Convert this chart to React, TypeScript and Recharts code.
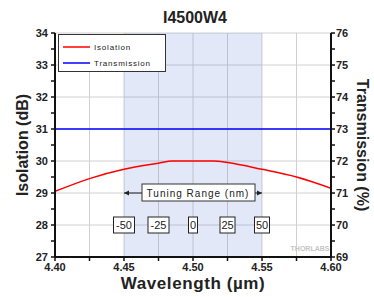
import React from "react";
import {
  CartesianGrid,
  ComposedChart,
  Line,
  ReferenceArea,
  ReferenceDot,
  ReferenceLine,
  XAxis,
  YAxis,
} from "recharts";

const wavelengths = [4.4, 4.425, 4.45, 4.475, 4.485, 4.5, 4.515, 4.525, 4.55, 4.575, 4.6];
const isolation = [29.05, 29.45, 29.74, 29.93, 30.0, 30.0, 30.0, 29.95, 29.74, 29.5, 29.15];
const transmission = [73, 73, 73, 73, 73, 73, 73, 73, 73, 73, 73];

const xTicks = [4.4, 4.425, 4.45, 4.475, 4.5, 4.525, 4.55, 4.575, 4.6];
const leftTicks = [27, 27.5, 28, 28.5, 29, 29.5, 30, 30.5, 31, 31.5, 32, 32.5, 33, 33.5, 34];
const rightTicks = [69, 69.5, 70, 70.5, 71, 71.5, 72, 72.5, 73, 73.5, 74, 74.5, 75, 75.5, 76];
const gridRows = [27, 28, 29, 30, 31, 32, 33, 34];

const tuningRange = [4.45, 4.55];
const offsetPositions = [4.45, 4.475, 4.5, 4.525, 4.55];
const offsetLabels = ["-50", "-25", "0", "25", "50"];

const seriesNames = ["Isolation", "Transmission"];
const seriesColors = ["#ff0000", "#0000ff"];

const data = wavelengths.map((w, i) => ({ w, isolation: isolation[i], transmission: transmission[i] }));

const FONT = "'Liberation Sans', Arial, sans-serif";
const tickStyle = { fontSize: 11, fontWeight: 700, fill: "#222", fontFamily: FONT };

function TuningBox(props: any) {
  const { cx, cy } = props;
  return (
    <g>
      <rect x={cx - 51} y={cy - 9} width={113} height={17} fill="#fff" stroke="#333" strokeWidth={1} />
      <text x={cx + 5} y={cy + 3.5} textAnchor="middle" fontSize={10} fontFamily={FONT} fill="#222" letterSpacing={1}>
        Tuning Range (nm)
      </text>
    </g>
  );
}

function offsetBox(label: string) {
  return (props: any) => {
    const { cx, cy } = props;
    const w = label.length * 6 + 3;
    return (
      <g>
        <rect x={cx - w / 2} y={cy - 8} width={w} height={16} fill="#fff" stroke="#222" strokeWidth={1} />
        <text x={cx} y={cy + 4} textAnchor="middle" fontSize={11} fontFamily={FONT} fill="#222">{label}</text>
      </g>
    );
  };
}

function arrowHead(dir: number) {
  return (props: any) => {
    const { cx, cy } = props;
    return <path d={`M${cx},${cy} L${cx - dir * 5},${cy - 2.5} L${cx - dir * 5},${cy + 2.5} Z`} fill="#222" />;
  };
}

export default function App() {
  return (
    <div style={{ position: "absolute", left: 0, top: 0, width: 374, height: 297, background: "#fff", fontFamily: FONT }}>
      <ComposedChart width={374} height={297} data={data} margin={{ top: 33, right: 0, bottom: 0, left: 0 }}>
        <ReferenceArea
          xAxisId="x"
          yAxisId="left"
          x1={tuningRange[0]}
          x2={tuningRange[1]}
          y1={27}
          y2={34}
          fill="#5577d0"
          fillOpacity={0.17}
          stroke="none"
        />
        <CartesianGrid xAxisId="x" yAxisId="left" stroke="#d0d0d0" strokeWidth={1} horizontalValues={gridRows} />
        <XAxis
          xAxisId="x"
          dataKey="w"
          type="number"
          domain={[4.4, 4.6]}
          ticks={xTicks}
          height={40}
          tick={tickStyle}
          tickFormatter={(v: number) => (Math.round(v * 1000) % 50 === 0 ? v.toFixed(2) : "")}
          axisLine={{ stroke: "#111", strokeWidth: 2 }}
          tickLine={{ stroke: "#111", strokeWidth: 1.5 }}
          tickSize={4}
          allowDataOverflow
        />
        <YAxis
          yAxisId="left"
          orientation="left"
          domain={[27, 34]}
          ticks={leftTicks}
          width={55}
          tick={tickStyle}
          tickFormatter={(v: number) => (Number.isInteger(v) ? String(v) : "")}
          axisLine={{ stroke: "#111", strokeWidth: 2 }}
          tickLine={{ stroke: "#111", strokeWidth: 1.5 }}
          tickSize={4}
          tickMargin={3}
        />
        <YAxis
          yAxisId="right"
          orientation="right"
          domain={[69, 76]}
          ticks={rightTicks}
          width={43}
          tick={tickStyle}
          tickFormatter={(v: number) => (Number.isInteger(v) ? String(v) : "")}
          axisLine={{ stroke: "#111", strokeWidth: 2 }}
          tickLine={{ stroke: "#111", strokeWidth: 1.5 }}
          tickSize={4}
          tickMargin={1}
        />
        <Line
          xAxisId="x"
          yAxisId="left"
          dataKey="isolation"
          name={seriesNames[0]}
          type="monotone"
          stroke={seriesColors[0]}
          strokeWidth={1.5}
          dot={false}
          isAnimationActive={false}
        />
        <Line
          xAxisId="x"
          yAxisId="right"
          dataKey="transmission"
          name={seriesNames[1]}
          type="linear"
          stroke={seriesColors[1]}
          strokeWidth={1.5}
          dot={false}
          isAnimationActive={false}
        />
        <ReferenceLine
          xAxisId="x"
          yAxisId="left"
          segment={[
            { x: tuningRange[0], y: 29 },
            { x: tuningRange[1], y: 29 },
          ]}
          stroke="#222"
          strokeWidth={1}
        />
        <ReferenceDot xAxisId="x" yAxisId="left" x={tuningRange[0]} y={29} shape={arrowHead(-1)} />
        <ReferenceDot xAxisId="x" yAxisId="left" x={tuningRange[1]} y={29} shape={arrowHead(1)} />
        <ReferenceDot xAxisId="x" yAxisId="left" x={4.5} y={29} shape={TuningBox} />
        {offsetPositions.map((x, i) => (
          <ReferenceDot key={i} xAxisId="x" yAxisId="left" x={x} y={28} shape={offsetBox(offsetLabels[i])} />
        ))}
      </ComposedChart>
      <svg width={374} height={297} style={{ position: "absolute", left: 0, top: 0, pointerEvents: "none" }}>
        <g transform="translate(58,34)">
          <rect x={0.5} y={0.5} width={107} height={37} fill="#fff" stroke="#333" strokeWidth={1} />
          {seriesNames.map((name, i) => (
            <g key={name}>
              <line x1={5} x2={32} y1={13 + i * 16} y2={13 + i * 16} stroke={seriesColors[i]} strokeWidth={1.5} />
              <text x={36} y={16 + i * 16} fontSize={8} fontFamily={FONT} fill="#222" letterSpacing={0.8}>
                {name}
              </text>
            </g>
          ))}
        </g>
        <text x={195} y={23} textAnchor="middle" fontSize={16} fontWeight={700} fill="#222" fontFamily={FONT}>
          I4500W4
        </text>
        <text
          x={0}
          y={0}
          transform="translate(28,145) rotate(-90)"
          textAnchor="middle"
          fontSize={16}
          fontWeight={700}
          fill="#222"
          fontFamily={FONT}
        >
          Isolation (dB)
        </text>
        <text
          x={0}
          y={0}
          transform="translate(357,145) rotate(90)"
          textAnchor="middle"
          fontSize={16}
          fontWeight={700}
          fill="#222"
          fontFamily={FONT}
        >
          Transmission (%)
        </text>
        <text x={193} y={289} textAnchor="middle" fontSize={17} fontWeight={700} fill="#222" fontFamily={FONT} letterSpacing={0.6}>
          Wavelength (µm)
        </text>
        <text x={310} y={251} textAnchor="middle" fontSize={7} fontWeight={700} fill="#c4c4c4" fontFamily={FONT}>
          THORLABS
        </text>
      </svg>
    </div>
  );
}
